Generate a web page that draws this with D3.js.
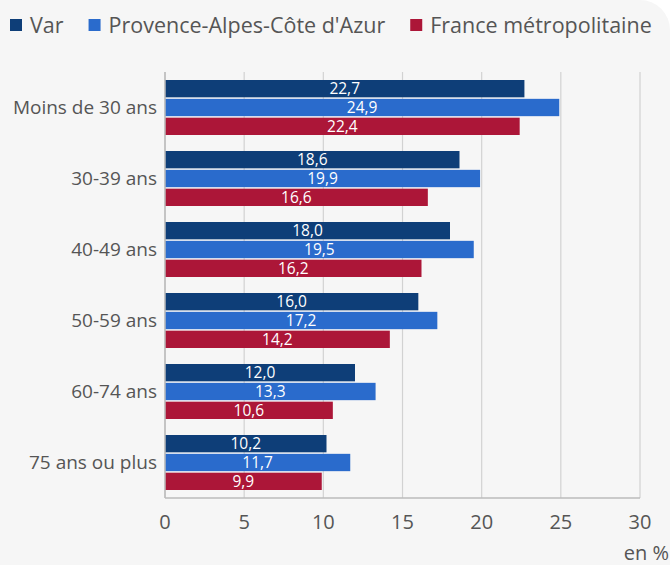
<!DOCTYPE html>
<html lang="fr">
<head>
<meta charset="UTF-8">
<title>Taux par âge</title>
<script src="https://d3js.org/d3.v7.min.js"></script>
<style>
  body { margin: 0; background: #fff; }
  svg { display: block; font-family: "Open Sans", "Noto Sans", sans-serif; }
</style>
</head>
<body>
<svg width="670" height="565"></svg>
<script>
const categories = ["Moins de 30 ans", "30-39 ans", "40-49 ans", "50-59 ans", "60-74 ans", "75 ans ou plus"];
const seriesNames = ["Var", "Provence-Alpes-Côte d'Azur", "France métropolitaine"];
const varValues = [22.7, 18.6, 18.0, 16.0, 12.0, 10.2];
const pacaValues = [24.9, 19.9, 19.5, 17.2, 13.3, 11.7];
const franceValues = [22.4, 16.6, 16.2, 14.2, 10.6, 9.9];
const xTicks = [0, 5, 10, 15, 20, 25, 30];

const colors = ["#0e3e78", "#2a6bcc", "#ac1638"];
const series = [varValues, pacaValues, franceValues];

const svg = d3.select("svg");
const W = 670, H = 565;
const m = { top: 72, right: 30, bottom: 67, left: 165 };

svg.append("path")
  .attr("d", `M0,0 H${W - 30} A30,30 0 0 1 ${W},30 V${H} H0 Z`)
  .attr("fill", "#f6f6f6");

const x = d3.scaleLinear().domain([0, 30]).range([m.left, W - m.right]);
const y = d3.scaleBand().domain(categories).range([m.top, H - m.bottom]);
const inner = d3.scaleBand().domain(d3.range(3)).range([8, y.bandwidth() - 8]).paddingInner(0.08);

// grid
svg.append("g").selectAll("line").data(xTicks).join("line")
  .attr("x1", d => x(d)).attr("x2", d => x(d))
  .attr("y1", m.top).attr("y2", H - m.bottom)
  .attr("stroke", "#d2d2d2").attr("stroke-width", 1.2);

// bars
const groups = svg.append("g").selectAll("g").data(categories).join("g")
  .attr("transform", d => `translate(0,${y(d)})`);

groups.each(function (cat, ci) {
  const g = d3.select(this);
  series.forEach((vals, si) => {
    const v = vals[ci];
    g.append("rect")
      .attr("x", x(0)).attr("y", inner(si))
      .attr("width", x(v) - x(0)).attr("height", inner.bandwidth())
      .attr("fill", colors[si]);
    g.append("text")
      .attr("x", (x(0) + x(v)) / 2).attr("y", inner(si) + inner.bandwidth() / 2)
      .attr("dy", "0.36em").attr("text-anchor", "middle")
      .attr("fill", "#fff").attr("font-size", 15.5)
      .text(d3.format(".1f")(v).replace(".", ","));
  });
});

// axis lines
svg.append("line").attr("x1", x(0)).attr("x2", x(0)).attr("y1", m.top).attr("y2", H - m.bottom)
  .attr("stroke", "#bbb").attr("stroke-width", 1.5);
svg.append("line").attr("x1", x(0)).attr("x2", x(30)).attr("y1", H - m.bottom).attr("y2", H - m.bottom)
  .attr("stroke", "#bbb").attr("stroke-width", 1.5);

// x tick labels
svg.append("g").selectAll("text").data(xTicks).join("text")
  .attr("x", d => x(d)).attr("y", H - m.bottom + 31)
  .attr("text-anchor", "middle").attr("fill", "#555").attr("font-size", 20)
  .text(d => d);

// category labels
svg.append("g").selectAll("text").data(categories).join("text")
  .attr("x", m.left - 8).attr("y", d => y(d) + y.bandwidth() / 2)
  .attr("dy", "0.36em").attr("text-anchor", "end")
  .attr("fill", "#555").attr("font-size", 19)
  .text(d => d);

svg.append("text").attr("x", W - 1).attr("y", H - 5)
  .attr("text-anchor", "end").attr("fill", "#555").attr("font-size", 20)
  .text("en %");

// legend
const legend = svg.append("g").attr("transform", "translate(10,25)");
let lx = 0;
seriesNames.forEach((name, i) => {
  const item = legend.append("g").attr("transform", `translate(${lx},0)`);
  item.append("rect").attr("x", 0).attr("y", -6).attr("width", 12).attr("height", 12).attr("fill", colors[i]);
  const t = item.append("text").attr("x", 20).attr("dy", "0.36em")
    .attr("fill", "#555").attr("font-size", 21.5).text(name);
  lx += 20 + t.node().getComputedTextLength() + 25;
});
</script>
</body>
</html>
